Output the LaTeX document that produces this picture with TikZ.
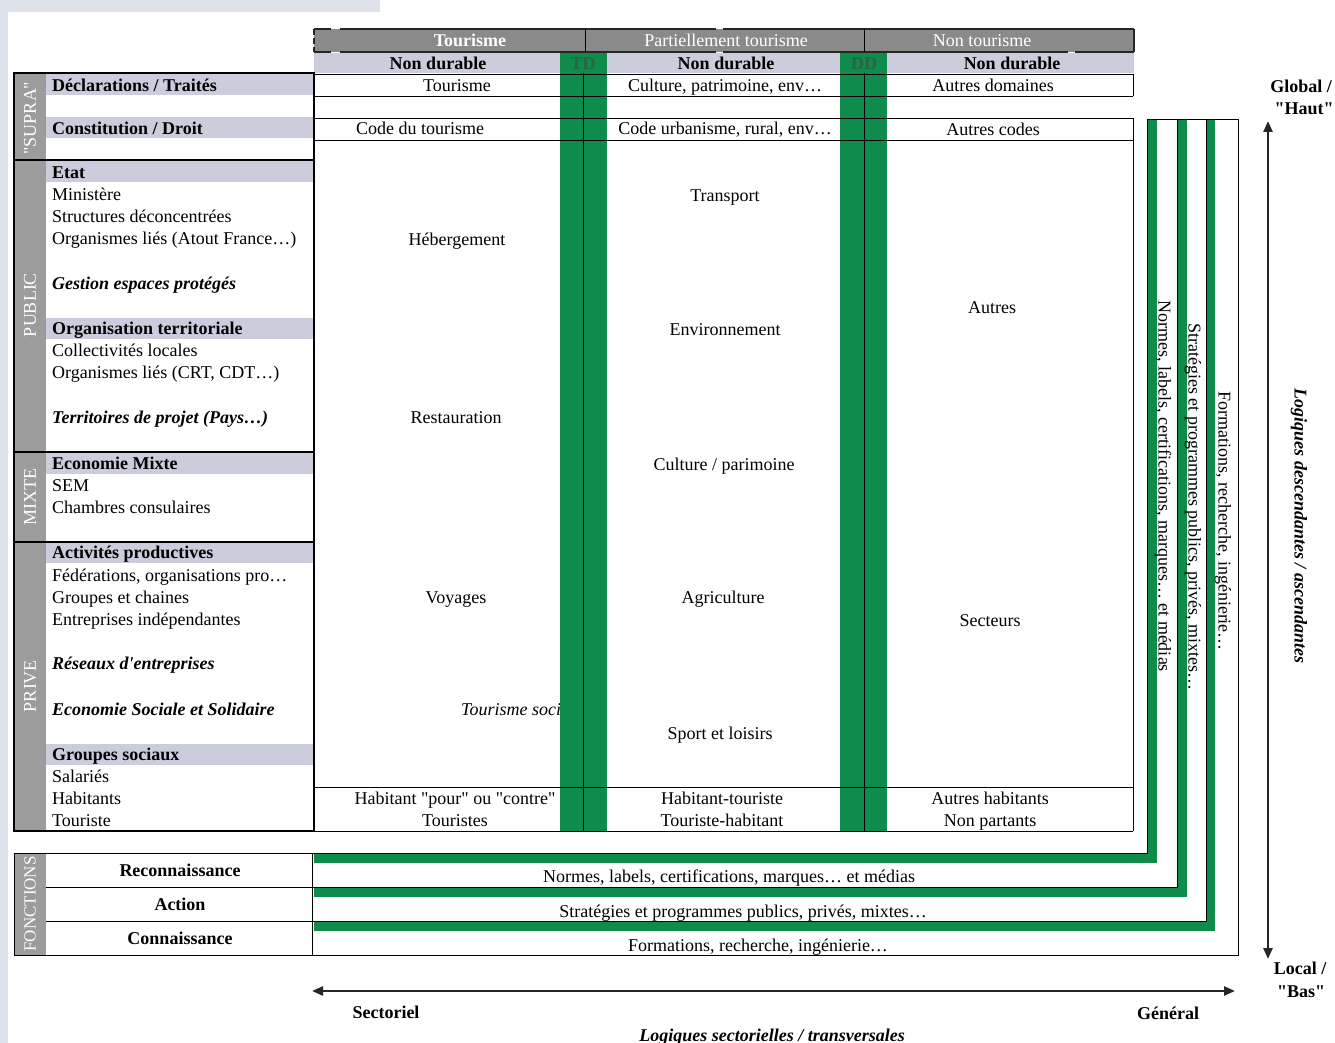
\documentclass[tikz,border=0pt]{standalone}
\usepackage{fontspec}
\setmainfont{Liberation Serif}[Ligatures=TeXOff]
\usetikzlibrary{arrows.meta}
\definecolor{dgreen}{HTML}{0F8B4C}
\definecolor{tdgreen}{HTML}{276640}
\definecolor{hdrgray}{HTML}{8A8A8A}
\definecolor{stripgray}{HTML}{9C9C9C}
\definecolor{lav}{HTML}{CBCCDC}
\definecolor{bgstrip}{HTML}{DEE2EA}
\tikzset{
  base0/.style={inner sep=0pt, font=\fontsize{18}{22}\selectfont},
  base/.style={base0, yshift=-4pt},
  lt/.style={base, anchor=mid west},
  ltb/.style={lt, font=\fontsize{18}{22}\selectfont\bfseries},
  ltbi/.style={lt, font=\fontsize{18}{22}\selectfont\bfseries\itshape},
  ct/.style={base, anchor=mid},
  ctb/.style={ct, font=\fontsize{18}{22}\selectfont\bfseries},
  ctbi/.style={ct, font=\fontsize{18}{22}\selectfont\bfseries\itshape},
  cat/.style={base0, anchor=center, rotate=90, text=white},
  hdr/.style={ct, text=white},
  vtxt/.style={base0, anchor=center, rotate=-90},
  tline/.style={line width=0.9pt, black},
  bline/.style={line width=1.3pt, black},
  hb/.style={line width=2.2pt, black!85},
  bigarrow/.style={line width=2.4pt, black!85, {Triangle[length=11pt,width=9pt]}-{Triangle[length=11pt,width=9pt]}}
}
\begin{document}
\begin{tikzpicture}[x=1pt,y=-1pt]
\useasboundingbox (0,0) rectangle (1335,1043);
% background strips
\fill[bgstrip] (0,0) rectangle (380,12);
\fill[bgstrip] (0,0) rectangle (8,1043);
% left table highlight bands
\foreach \yy in {85,128,172,328,463,552,754}
  \fill[lav] (46,\yy-10.5) rectangle (314,\yy+10.5);
% category strips
\fill[stripgray] (14,73) rectangle (46,831);
\fill[stripgray] (14,853) rectangle (46,955);
% header bands
\fill[hdrgray] (314,29) rectangle (1134,52);
\fill[lav] (314,53) rectangle (1134,73);
% header texts
\node[hdr, font=\fontsize{18}{22}\selectfont\bfseries] (hTour) at (470,40) {Tourisme};
\node[hdr] (hPart) at (726,40) {Partiellement tourisme};
\node[hdr] (hNon) at (982,40) {Non tourisme};
\node[ctb] (nd1) at (438,63) {Non durable};
\node[ctb] (nd2) at (726,63) {Non durable};
\node[ctb] (nd3) at (1012,63) {Non durable};
% main table texts
\node[ct] (m11) at (457,85) {Tourisme};
\node[ct] (m12) at (725,85) {Culture, patrimoine, env…};
\node[ct] (m13) at (993,85) {Autres domaines};
\node[ct] (m21) at (420,128) {Code du tourisme};
\node[ct] (m22) at (725,128) {Code urbanisme, rural, env…};
\node[ct] (m23) at (993,129) {Autres codes};
\node[ct] (heb) at (457,239) {Hébergement};
\node[ct] (rest) at (456,417) {Restauration};
\node[ct] (voy) at (456,597) {Voyages};
\node[lt, font=\fontsize{18}{22}\selectfont\itshape] (tsoc) at (461,709) {Tourisme social};
\node[ct] (trans) at (725,195) {Transport};
\node[ct] (env) at (725,329) {Environnement};
\node[ct] (cult) at (724,464) {Culture / parimoine};
\node[ct] (agri) at (723,597) {Agriculture};
\node[ct] (sport) at (720,733) {Sport et loisirs};
\node[ct] (autres) at (992,307) {Autres};
\node[ct] (sect) at (990,620) {Secteurs};
\node[ct] (hpc) at (455,798) {Habitant "pour" ou "contre"};
\node[ct] (tours) at (455,820) {Touristes};
\node[ct] (ht) at (722,798) {Habitant-touriste};
\node[ct] (th) at (722,820) {Touriste-habitant};
\node[ct] (ah) at (990,798) {Autres habitants};
\node[ct] (np) at (990,820) {Non partants};
% green columns TD / DD
\fill[dgreen] (560,53) rectangle (607,831);
\fill[dgreen] (840,53) rectangle (887,831);
\node[ctb, text=tdgreen] (td) at (583,63) {TD};
\node[ctb, text=tdgreen] (dd) at (864,63) {DD};
% main table lines
\foreach \yy in {74,96,118,140,787,831}
  \draw[tline] (314,\yy) -- (1133,\yy);
\draw[tline] (1133,74) -- (1133,96);
\draw[tline] (1133,118) -- (1133,831);
\draw[tline] (583,73) -- (583,831);
\draw[tline] (864,73) -- (864,831);
% header border
\draw[hb] (314,29) -- (331,29);
\draw[hb] (340,29) -- (716,29);
\draw[hb] (723,29) -- (1134,29);
\draw[hb] (314,52) -- (331,52);
\draw[hb] (340,52) -- (716,52);
\draw[hb] (723,52) -- (1068,52);
\draw[hb] (1075,52) -- (1134,52);
\draw[hb, dash pattern=on 6pt off 3pt] (314,29) -- (314,52);
\draw[hb] (1134,29) -- (1134,52);
\draw[tline] (585,29) -- (585,52);
\draw[tline] (864,29) -- (864,52);
% left table
\draw[bline] (14,73) rectangle (314,831);
\foreach \yy in {160,452,542}
  \draw[bline] (14,\yy) -- (314,\yy);
\node[cat] (supra) at (30,118) {"SUPRA"};
\node[cat] (public) at (30,305) {PUBLIC};
\node[cat] (mixte) at (30,497) {MIXTE};
\node[cat] (prive) at (30,686) {PRIVE};
\node[ltb] (decl) at (52,85) {Déclarations / Traités};
\node[ltb] (const) at (52,128) {Constitution / Droit};
\node[ltb] (etat) at (52,172) {Etat};
\node[lt] (mini) at (52,194) {Ministère};
\node[lt] (struc) at (52,216) {Structures déconcentrées};
\node[lt] (orgA) at (52,238) {Organismes liés (Atout France…)};
\node[ltbi] (gest) at (52,283) {Gestion espaces protégés};
\node[ltb] (orgT) at (52,328) {Organisation territoriale};
\node[lt] (coll) at (52,350) {Collectivités locales};
\node[lt] (orgC) at (52,372) {Organismes liés (CRT, CDT…)};
\node[ltbi] (terr) at (52,417) {Territoires de projet (Pays…)};
\node[ltb] (ecoM) at (52,463) {Economie Mixte};
\node[lt] (sem) at (52,485) {SEM};
\node[lt] (chamb) at (52,507) {Chambres consulaires};
\node[ltb] (act) at (52,552) {Activités productives};
\node[lt] (fede) at (52,575) {Fédérations, organisations pro…};
\node[lt] (grpc) at (52,597) {Groupes et chaines};
\node[lt] (entr) at (52,619) {Entreprises indépendantes};
\node[ltbi] (res) at (52,663) {Réseaux d'entreprises};
\node[ltbi] (ess) at (52,709) {Economie Sociale et Solidaire};
\node[ltb] (grps) at (52,754) {Groupes sociaux};
\node[lt] (sal) at (52,776) {Salariés};
\node[lt] (hab) at (52,798) {Habitants};
\node[lt] (tou) at (52,820) {Touriste};
% nested L frames (green bands)
\fill[dgreen] (1147,119) rectangle (1157,863);
\fill[dgreen] (314,853) rectangle (1157,863);
\fill[dgreen] (1177,119) rectangle (1187,897);
\fill[dgreen] (314,887) rectangle (1187,897);
\fill[dgreen] (1206,119) rectangle (1215,931);
\fill[dgreen] (314,921) rectangle (1215,931);
% frame black lines
\draw[tline] (14,853) -- (1147,853) -- (1147,119);
\draw[tline] (46,887) -- (1177,887) -- (1177,119);
\draw[tline] (46,921) -- (1206,921) -- (1206,119);
\draw[tline] (14,955) -- (1238,955) -- (1238,119) -- (1147,119);
\draw[tline] (14,853) -- (14,955);
\draw[tline] (312,853) -- (312,955);
% fonctions table
\node[cat, font=\fontsize{17}{20}\selectfont] (fonc) at (30,904) {FONCTIONS};
\node[ctb] (reco) at (180,870) {Reconnaissance};
\node[ctb] (actn) at (180,904) {Action};
\node[ctb] (conn) at (180,938) {Connaissance};
\node[ct] (hN) at (729,876) {Normes, labels, certifications, marques… et médias};
\node[ct] (hS) at (743,911) {Stratégies et programmes publics, privés, mixtes…};
\node[ct] (hF) at (758,945) {Formations, recherche, ingénierie…};
\node[vtxt] (vN) at (1163,486) {Normes, labels, certifications, marques… et médias};
\node[vtxt] (vS) at (1193,507) {Stratégies et programmes publics, privés, mixtes…};
\node[vtxt] (vF) at (1223,521) {Formations, recherche, ingénierie…};
% axes
\coordinate (vtop) at (1268,121);
\coordinate (vbot) at (1268,959);
\draw[bigarrow] (vtop) -- (vbot);
\coordinate (hleft) at (312,991);
\coordinate (hright) at (1235,991);
\draw[bigarrow] (hleft) -- (hright);
\node[ctb] (glob) at (1301,86) {Global /};
\node[ctb] (haut) at (1304,108) {"Haut"};
\node[ctb] (loc) at (1300,968) {Local /};
\node[ctb] (bas) at (1301,991) {"Bas"};
\node[vtxt, font=\fontsize{18}{22}\selectfont\bfseries\itshape] (logv) at (1299,526) {Logiques descendantes / ascendantes};
\node[ctb] (secto) at (386,1012) {Sectoriel};
\node[ctb] (gene) at (1168,1013) {Général};
\node[ctbi] (logh) at (772,1035) {Logiques sectorielles / transversales};
\end{tikzpicture}
\end{document}
